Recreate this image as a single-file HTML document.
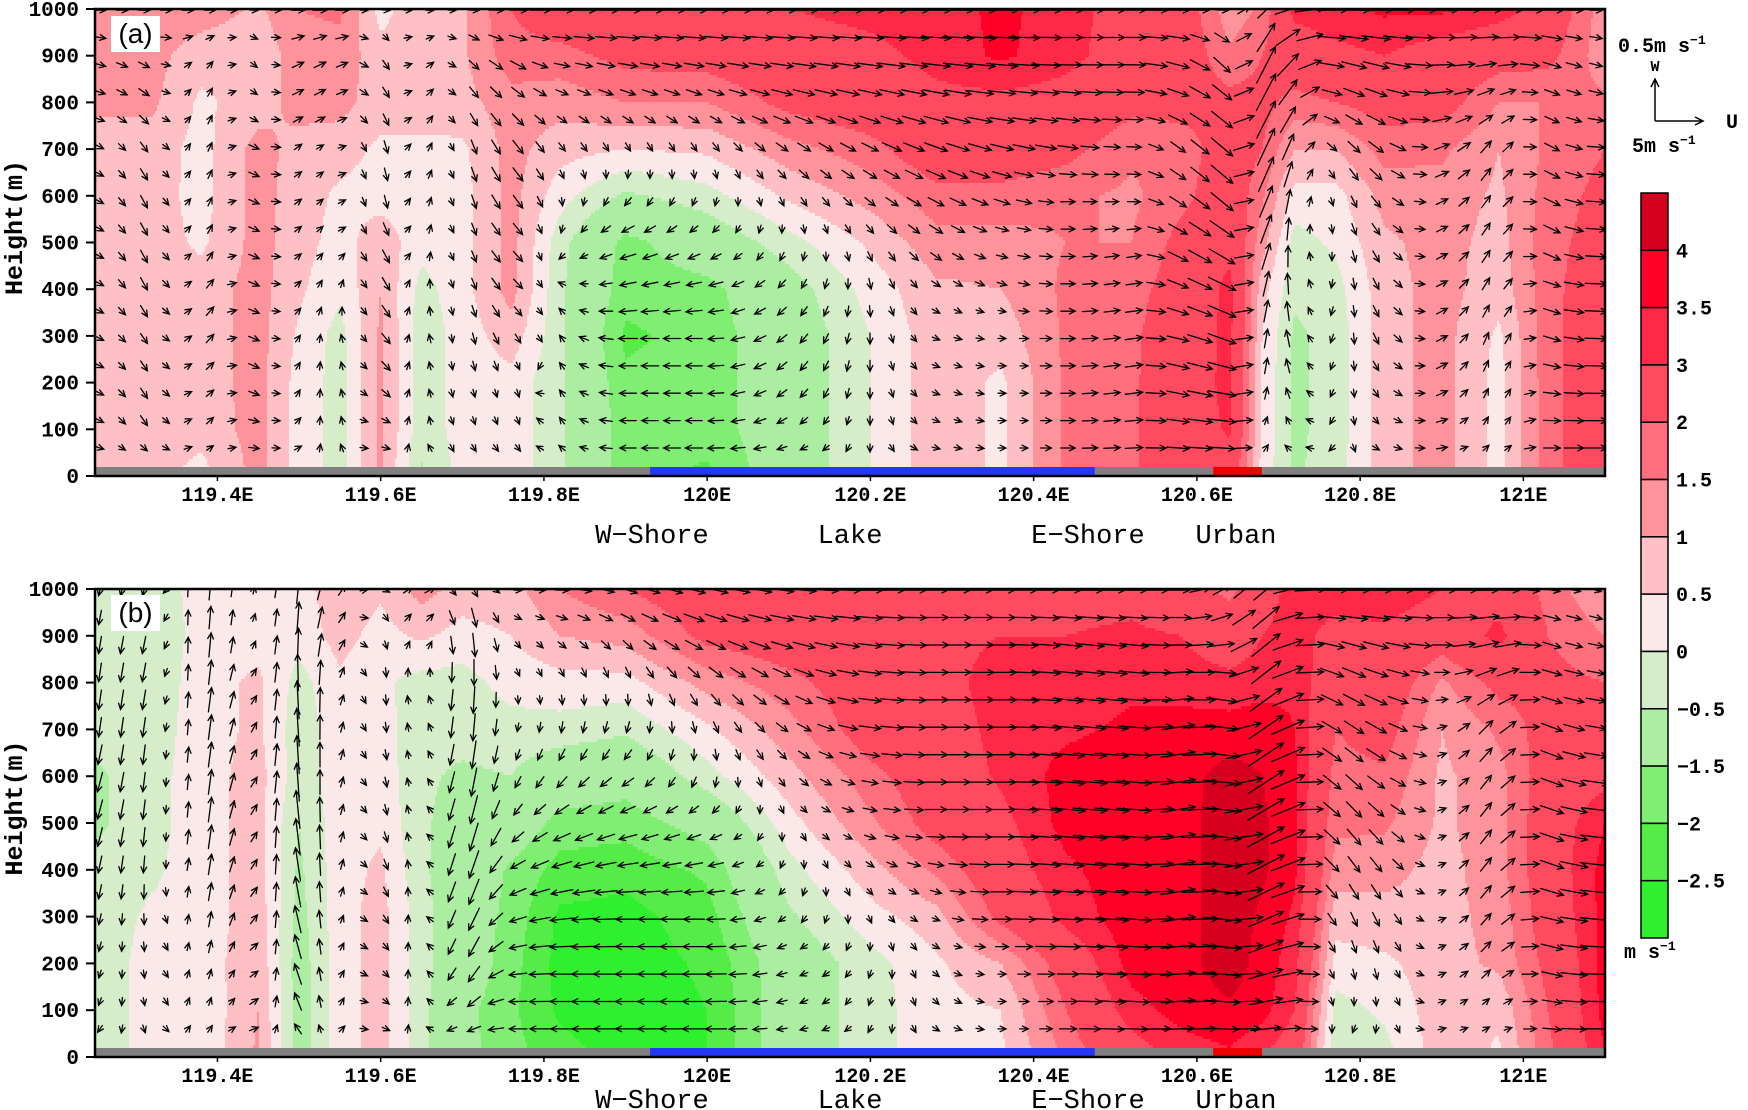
<!DOCTYPE html>
<html><head><meta charset="utf-8"><title>Cross-section wind</title>
<style>
html,body{margin:0;padding:0;background:#fff;}
svg{display:block;}
text{font-family:"Liberation Mono","DejaVu Sans Mono",monospace;fill:#000;}
.tk{font-size:20px;font-weight:bold;}
.yt{font-size:21px;font-weight:bold;}
.cat{font-size:27px;}
</style></head>
<body>
<svg id="fig" width="1748" height="1110" viewBox="0 0 1748 1110" xmlns="http://www.w3.org/2000/svg">
<defs>
<clipPath id="clipA"><rect x="95" y="9" width="1510" height="467"/></clipPath>
<clipPath id="clipB"><rect x="95" y="589" width="1510" height="468"/></clipPath>
</defs>
<g id="panelA"></g>
<g id="panelB"></g>
<g id="deco"></g>
</svg>
<script>
// ---- data ----
const lons = [119.25,119.32,119.38,119.45,119.5,119.55,119.6,119.65,119.7,119.76,119.82,119.9,120.0,120.1,120.2,120.28,120.36,120.44,120.52,120.58,120.64,120.68,120.72,120.77,120.83,120.9,120.97,121.03,121.1];
const heights = [0,100,200,300,400,500,600,700,800,900,1000];
const xTicks = [119.4,119.6,119.8,120.0,120.2,120.4,120.6,120.8,121.0];
const xTickLabels = ["119.4E","119.6E","119.8E","120E","120.2E","120.4E","120.6E","120.8E","121E"];
const yTicks = [0,100,200,300,400,500,600,700,800,900,1000];
const levels = [-2.5,-2,-1.5,-0.5,0,0.5,1,1.5,2,3,3.5,4];
const levelLabels = ["4","3.5","3","2","1.5","1","0.5","0","\u22120.5","\u22121.5","\u22122","\u22122.5"];
const colors = ["#2ef02e","#55ec48","#80ee72","#abeea2","#d5edc9","#fbe9ea","#ffc0c5","#ff939c","#ff6f7d","#ff4a60","#ff2847","#ff0026","#d6001e"];
const surfaceLabels = ["W\u2212Shore","Lake","E\u2212Shore","Urban"];

const uA = [
[0.6,0.75,0.75,0.75,0.75,0.75,0.75,0.75,1.1,1.3,1.3],
[0.7,0.75,0.75,0.75,0.75,0.75,0.75,0.8,1.1,1.2,1.3],
[0.3,0.7,0.75,0.75,0.75,0.4,0.3,0.3,0.4,0.7,1.3],
[1.2,1.2,1.2,1.2,1.2,1.2,1.2,1.2,0.75,0.6,0.9],
[0.3,0.3,0.3,0.4,0.6,0.7,0.75,0.8,1.2,1.3,1.5],
[-0.2,-0.2,-0.2,-0.2,0.1,0.3,0.4,0.7,1.2,1.3,1.6],
[1.1,1.1,1.1,1.1,1.0,0.8,0.3,0.4,0.7,0.7,0.3],
[-0.6,-0.3,-0.3,-0.3,-0.2,0.2,0.3,0.4,0.7,0.8,0.9],
[0.2,0.2,0.2,0.2,0.3,0.3,0.3,0.4,0.8,0.9,0.9],
[0.3,0.3,0.3,0.8,1.2,1.2,1.2,1.2,1.3,1.8,2.0],
[-0.4,-0.4,-0.4,-0.4,-0.4,-0.3,0.2,0.7,1.2,1.8,2.5],
[-1.8,-1.8,-1.9,-2.1,-1.8,-1.7,-0.6,0.5,1.5,2.2,2.8],
[-2.1,-1.8,-1.8,-1.8,-1.7,-1.0,-0.2,0.6,1.5,2.3,2.8],
[-1.0,-1.0,-1.0,-1.0,-0.8,-0.2,0.6,1.3,2.2,2.6,3.0],
[0.0,0.0,0.0,0.0,0.2,0.6,1.2,1.8,2.5,2.8,3.2],
[0.8,0.8,0.8,0.8,0.9,1.3,1.8,2.5,2.8,3.2,3.3],
[0.4,0.4,0.4,0.7,1.0,1.3,1.8,2.5,2.8,3.6,3.6],
[1.6,1.6,1.6,1.6,1.6,1.5,1.6,2.2,2.7,3.2,3.3],
[1.9,1.9,1.9,1.9,1.8,1.5,1.4,1.6,2.2,2.6,2.6],
[2.5,2.5,2.5,2.4,2.3,2.2,1.8,1.6,2.3,2.5,2.5],
[2.6,3.1,3.2,3.2,3.2,2.8,2.5,2.5,2.2,1.6,1.2],
[0.3,0.4,0.4,0.5,0.7,1.2,1.6,2.0,2.2,2.0,1.6],
[-0.6,-0.6,-0.6,-0.6,-0.4,-0.2,0.3,1.0,1.8,2.5,3.2],
[-0.2,-0.3,-0.3,-0.3,-0.2,0.1,0.3,1.0,2.0,2.8,3.4],
[0.8,0.8,0.8,0.8,0.8,0.9,1.2,1.7,2.3,3.0,3.6],
[1.2,1.2,1.2,1.2,1.2,1.2,1.3,1.6,2.3,2.6,3.6],
[0.3,0.3,0.3,0.4,0.7,0.8,0.9,1.0,1.5,2.3,3.3],
[1.8,1.8,1.8,1.8,1.8,1.8,1.7,1.6,1.5,2.2,2.6],
[2.6,2.6,2.6,2.6,2.5,2.3,2.2,2.0,1.6,1.2,1.2]
];
const wA = [
[0,-0.05,-0.05,-0.05,-0.05,-0.05,-0.05,-0.05,-0.05,-0.05,0],
[0,-0.2,-0.2,-0.2,-0.25,-0.25,-0.25,-0.2,-0.15,-0.1,0],
[0,0.15,0.15,0.2,0.2,0.2,0.2,0.2,0.2,0.15,0],
[0,-0.05,-0.1,-0.1,-0.1,-0.1,-0.1,-0.1,-0.1,-0.1,0],
[0,0.05,0.1,0.1,0.1,0.1,0.1,0.1,0.1,0.1,0],
[0,0.1,0.1,0.1,0.1,0.05,0.05,0.05,0.1,0.1,0],
[0,-0.1,-0.2,-0.25,-0.3,-0.3,-0.3,-0.3,-0.25,-0.2,0],
[0,0.2,0.2,0.25,0.25,0.25,0.25,0.25,0.2,0.15,0],
[0,-0.1,-0.15,-0.2,-0.2,-0.2,-0.25,-0.25,-0.2,-0.15,0],
[0,-0.1,-0.15,-0.2,-0.2,-0.2,-0.25,-0.25,-0.2,-0.15,0],
[0,0.1,0.1,0.1,0.05,-0.1,-0.15,-0.15,-0.1,-0.05,0],
[0,0,0,0,-0.05,-0.1,-0.15,-0.15,-0.1,-0.05,0],
[0,0,0,0,-0.05,-0.1,-0.15,-0.15,-0.1,-0.05,0],
[0,-0.1,-0.15,-0.15,-0.15,-0.15,-0.15,-0.15,-0.1,-0.05,0],
[0,-0.15,-0.2,-0.2,-0.2,-0.15,-0.15,-0.15,-0.1,-0.05,0],
[0,-0.05,-0.05,-0.05,-0.1,-0.15,-0.15,-0.15,-0.1,-0.05,0],
[0,0,0,0,-0.05,-0.05,-0.1,-0.1,-0.05,-0.05,0],
[0,0,0,0,0,0,0,-0.05,-0.05,0,0],
[0,0.03,0.05,0.05,0.05,0.05,0,0,0,0,0],
[0,-0.05,-0.1,-0.1,-0.15,-0.2,-0.2,-0.2,-0.15,-0.1,0],
[0,-0.05,-0.1,-0.2,-0.25,-0.3,-0.35,-0.35,-0.3,-0.3,0],
[0,0.1,0.25,0.35,0.45,0.5,0.6,0.7,0.7,0.7,0.3],
[0,0.1,0.2,0.3,0.35,0.35,0.4,0.4,0.4,0.3,0.1],
[0,-0.1,-0.15,-0.2,-0.2,-0.2,-0.2,-0.2,-0.15,-0.1,0],
[0,-0.1,-0.15,-0.2,-0.2,-0.2,-0.2,-0.2,-0.15,-0.1,0],
[0,0.05,0.1,0.1,0.1,0.1,0.1,0.1,0.05,0,0],
[0,0.15,0.2,0.25,0.25,0.25,0.25,0.25,0.15,0.05,0],
[0,0,-0.05,-0.1,-0.1,-0.15,-0.15,-0.15,-0.1,-0.1,0],
[0,0,0,0,0,0,0,0,-0.05,-0.05,0]
];
const uB = [
[-0.3,-0.3,-0.3,-0.3,-0.4,-0.6,-0.6,-0.3,-0.3,-0.3,-0.3],
[0.2,0.2,0.2,0.1,-0.1,-0.2,-0.2,-0.3,-0.4,-0.4,-0.3],
[0.1,0.1,0.2,0.2,0.3,0.3,0.3,0.3,0.3,0.2,0.2],
[1.1,1.0,0.9,0.8,0.7,0.7,0.7,0.6,0.6,0.3,0.2],
[-0.8,-0.8,-0.8,-0.7,-0.6,-0.5,-0.3,-0.3,-0.2,0.2,0.3],
[0.3,0.3,0.3,0.3,0.3,0.3,0.3,0.3,0.4,0.7,0.8],
[0.7,0.7,0.7,0.7,0.6,0.4,0.3,0.2,0.1,0.3,0.6],
[-0.3,-0.3,-0.3,-0.3,-0.4,-0.4,-0.4,-0.3,-0.2,0.6,1.2],
[-1.3,-1.3,-1.0,-1.0,-0.9,-0.8,-0.6,-0.3,-0.2,0.3,0.8],
[-1.8,-1.9,-1.8,-1.7,-1.6,-1.0,-0.5,-0.2,0.2,0.5,0.8],
[-2.3,-2.6,-2.7,-2.6,-2.2,-1.7,-1.0,-0.2,0.3,1.0,1.5],
[-2.7,-2.8,-2.8,-2.7,-2.3,-1.8,-1.2,-0.4,0.3,1.2,2.0],
[-2.5,-2.5,-2.4,-2.2,-1.9,-1.2,-0.2,0.4,1.2,2.2,2.6],
[-1.0,-1.0,-1.0,-0.6,-0.2,0.3,0.8,1.3,1.8,2.5,2.6],
[-0.2,-0.2,-0.2,0.3,0.8,1.4,1.8,2.4,2.5,2.6,2.8],
[0.3,0.3,0.4,0.8,1.6,2.3,2.5,2.6,2.7,2.8,2.6],
[0.4,0.5,1.0,2.2,2.6,2.8,3.1,3.2,3.3,3.0,2.8],
[1.6,2.0,2.4,3.2,3.4,3.7,3.7,3.4,3.2,3.0,2.8],
[2.6,3.3,3.7,3.8,3.8,3.8,3.8,3.6,3.4,3.1,2.8],
[3.2,3.7,3.8,3.8,3.8,3.8,3.8,3.7,3.3,3.0,2.5],
[3.4,3.9,4.3,4.3,4.3,4.3,4.2,3.7,3.2,2.5,1.8],
[3.0,3.7,3.8,3.9,4.1,4.1,4.0,3.8,3.3,3.0,2.6],
[2.5,3.0,3.2,3.4,3.6,3.6,3.6,3.5,3.4,3.3,3.3],
[-0.4,-0.2,0.3,0.7,1.3,1.6,1.8,2.0,2.4,2.7,3.4],
[-0.2,0.1,0.4,0.8,1.2,1.6,1.9,2.3,2.6,2.8,3.5],
[0.8,0.8,0.8,0.8,0.8,0.9,0.9,1.0,1.4,2.4,3.0],
[0.4,0.6,1.1,1.2,1.3,1.3,1.3,1.6,2.2,3.2,2.6],
[1.8,2.0,2.2,2.4,2.5,2.5,2.4,2.3,2.2,2.0,1.8],
[3.5,3.7,3.7,3.7,3.7,3.5,2.8,2.3,2.0,1.5,1.0]
];
const wB = [
[0,-0.1,-0.15,-0.2,-0.3,-0.35,-0.35,-0.35,-0.35,-0.3,-0.2],
[0,-0.1,-0.15,-0.2,-0.3,-0.35,-0.35,-0.35,-0.35,-0.3,-0.2],
[0,0.1,0.2,0.3,0.4,0.5,0.5,0.5,0.5,0.5,0.4],
[0,0.1,0.1,0.15,0.15,0.15,0.15,0.15,0.1,0.1,0.1],
[0,0.3,0.4,0.5,0.6,0.7,0.7,0.7,0.7,0.6,0.5],
[0,0.1,0.1,0.15,0.2,0.2,0.2,0.2,0.2,0.2,0.2],
[0,-0.1,-0.15,-0.2,-0.25,-0.25,-0.25,-0.25,-0.25,-0.2,-0.1],
[0,0.15,0.2,0.2,0.25,0.25,0.3,0.3,0.3,0.3,0.2],
[0,-0.2,-0.4,-0.5,-0.6,-0.6,-0.6,-0.6,-0.6,-0.5,-0.3],
[0,0,-0.05,-0.1,-0.15,-0.2,-0.2,-0.15,-0.1,-0.1,0],
[0,0,0,-0.05,-0.1,-0.15,-0.2,-0.2,-0.15,-0.1,0],
[0,0,0,0,-0.05,-0.1,-0.15,-0.2,-0.2,-0.15,-0.1],
[0,0,0,0,-0.05,-0.1,-0.2,-0.2,-0.2,-0.15,-0.1],
[0,-0.05,-0.05,-0.1,-0.1,-0.1,-0.15,-0.15,-0.15,-0.1,-0.05],
[0,-0.1,-0.1,-0.1,-0.1,-0.05,-0.05,-0.05,-0.05,-0.05,0],
[0,-0.05,-0.05,-0.05,-0.05,0,0,0,0,0,0],
[0,0,0,0,0,0,0,0,0,0,0],
[0,0,0,-0.03,-0.05,-0.05,-0.05,-0.05,-0.05,-0.05,0],
[0,-0.03,-0.05,-0.05,-0.05,-0.05,-0.05,-0.05,-0.05,-0.05,0],
[0,0.05,0.05,0.1,0.1,0.1,0.1,0.1,0.05,0,0],
[0,-0.05,-0.1,-0.1,-0.1,-0.1,-0.1,-0.1,-0.1,0.1,0.2],
[0,0.1,0.2,0.3,0.35,0.4,0.45,0.45,0.45,0.45,0.4],
[0,0.05,0.1,0.15,0.2,0.2,0.2,0.2,0.15,0.1,0.05],
[0,-0.1,-0.2,-0.25,-0.3,-0.3,-0.3,-0.25,-0.2,-0.1,0],
[0,-0.15,-0.2,-0.25,-0.25,-0.25,-0.2,-0.2,-0.15,-0.1,0],
[0,0.05,0.05,0.05,0.05,0.05,0.05,0.05,0,0,0],
[0,0.1,0.2,0.25,0.3,0.3,0.3,0.3,0.2,0.1,0],
[0,-0.05,-0.1,-0.1,-0.15,-0.15,-0.15,-0.15,-0.1,-0.1,-0.05],
[0,0,0,-0.05,-0.05,-0.05,-0.05,-0.05,-0.05,-0.05,-0.05]
];
const surfaceTypes = ["land","lake","land","urban","land"];
const surfaceBounds = [119.25,119.93,120.475,120.62,120.68,121.1];

// ---- layout ----
const NS = "http://www.w3.org/2000/svg";
const X0 = 95, X1 = 1605, LON0 = 119.25, LON1 = 121.1;
const xScale = lon => X0 + (lon - LON0) / (LON1 - LON0) * (X1 - X0);
const lonFromX = x => LON0 + (x - X0) / (X1 - X0) * (LON1 - LON0);
function mk(tag, attrs, parent){
  const e = document.createElementNS(NS, tag);
  for (const k in attrs) e.setAttribute(k, attrs[k]);
  parent.appendChild(e); return e;
}
function interp(field, lon, h){
  let i = 0;
  while (i < lons.length - 2 && lon > lons[i+1]) i++;
  let tx = (lon - lons[i]) / (lons[i+1] - lons[i]); tx = Math.max(0, Math.min(1, tx));
  let hy = h / 100; let j = Math.min(heights.length - 2, Math.max(0, Math.floor(hy)));
  let ty = Math.max(0, Math.min(1, hy - j));
  const a = field[i][j], b = field[i+1][j], c = field[i][j+1], d = field[i+1][j+1];
  return (a*(1-tx)+b*tx)*(1-ty) + (c*(1-tx)+d*tx)*ty;
}
function colorIdx(v){ let k = 0; while (k < levels.length && v >= levels[k]) k++; return k; }

function drawPanel(g, top, bottom, uF, wF, clipId, tag){
  const yScale = h => bottom - h / 1000 * (bottom - top);
  const field = mk('g', {'clip-path':'url(#'+clipId+')'}, g);
  
  
  const stepY = 3, stepX = 2;
  for (let y = top; y < bottom; y += stepY) {
    const h = (bottom - (y + stepY/2)) / (bottom - top) * 1000;
    let runStart = X0, runC = -1;
    for (let x = X0; x <= X1; x += stepX) {
      const c = x < X1 ? colorIdx(interp(uF, lonFromX(x + 1), h)) : -2;
      if (c !== runC) {
        if (runC >= 0) {
          const r = mk('rect', {x: runStart, y: y, width: x - runStart + 0.6, height: stepY + 0.6, fill: colors[runC]}, field);
          
          
        }
        runStart = x; runC = c;
      }
    }
  }
  const bar = mk('g', {}, g);
  
  
  const barCol = {land:'#808080', lake:'#2238f5', urban:'#ee0000'};
  for (let s = 0; s < surfaceTypes.length; s++) {
    const r = mk('rect', {x: xScale(surfaceBounds[s]), y: bottom - 9, width: xScale(surfaceBounds[s+1]) - xScale(surfaceBounds[s]), height: 9, fill: barCol[surfaceTypes[s]]}, bar);
    
    
  }
  const vec = mk('g', {'clip-path':'url(#'+clipId+')', stroke:'#000', 'stroke-width':1.3, fill:'none', 'stroke-linecap':'round'}, g);
  
  
  const US = 9, WS = 55;
  for (let k = 0; k < 17; k++) {
    const h = 60 + k * 58.6;
    const yc = yScale(h);
    for (let m = 0; m < 69; m++) {
      const xc = 100 + m * 22;
      const lon = lonFromX(xc);
      const u = interp(uF, lon, h), w = interp(wF, lon, h);
      let dx = u * US, dy = -w * WS;
      let L = Math.hypot(dx, dy);
      if (L < 0.01) { dx = 8; dy = 0; L = 8; }
      if (L < 8) { dx *= 8 / L; dy *= 8 / L; L = 8; }
      const x1 = xc - dx/2, y1 = yc - dy/2, x2 = xc + dx/2, y2 = yc + dy/2;
      const ang = Math.atan2(dy, dx), hl = 6.5, ha = 0.45;
      const p = 'M'+x1.toFixed(1)+' '+y1.toFixed(1)+'L'+x2.toFixed(1)+' '+y2.toFixed(1)+
        'M'+(x2 - hl*Math.cos(ang-ha)).toFixed(1)+' '+(y2 - hl*Math.sin(ang-ha)).toFixed(1)+'L'+x2.toFixed(1)+' '+y2.toFixed(1)+
        'L'+(x2 - hl*Math.cos(ang+ha)).toFixed(1)+' '+(y2 - hl*Math.sin(ang+ha)).toFixed(1);
      const a = mk('path', {d: p}, vec);
      
      
    }
  }
  const fr = mk('rect', {x: X0, y: top, width: X1 - X0, height: bottom - top, fill:'none', stroke:'#000', 'stroke-width':2.5}, g);
  
  
  const ya = mk('g', {}, g);
  
  
  yTicks.forEach(v => {
    const y = yScale(v);
    mk('line', {x1: X0 - 9, x2: X0, y1: y, y2: y, stroke:'#000', 'stroke-width':2}, ya);
    const t = mk('text', {x: 79, y: y + 7, 'text-anchor':'end', class:'yt'}, ya);
    t.textContent = v;
    
    
  });
  const yl = mk('text', {x: 0, y: 0, 'text-anchor':'middle', class:'yt', style:'font-size:25px', transform:'translate(22,' + ((top + bottom)/2 - 15) + ') rotate(-90)'}, ya);
  yl.textContent = 'Height(m)';
  
  
  const xa = mk('g', {}, g);
  
  
  xTicks.forEach((v, i) => {
    const x = xScale(v);
    mk('line', {x1: x, x2: x, y1: bottom, y2: bottom + 5, stroke:'#000', 'stroke-width':1.5}, xa);
    const t = mk('text', {x: x, y: bottom + 25, 'text-anchor':'middle', class:'tk'}, xa);
    t.textContent = xTickLabels[i];
    
    
  });
}

drawPanel(document.getElementById('panelA'), 9, 476, uA, wA, 'clipA', 'a');
drawPanel(document.getElementById('panelB'), 589, 1057, uB, wB, 'clipB', 'b');

const deco = document.getElementById('deco');
[['(a)', 16], ['(b)', 595]].forEach(([lab, y]) => {
  const r = mk('rect', {x: 111, y: y, width: 49, height: 36, fill:'#fff'}, deco);
  
  
  const t = mk('text', {x: 135.5, y: y + 27, 'text-anchor':'middle', style:'font-size:28px;font-family:"Liberation Sans",sans-serif'}, deco);
  t.textContent = lab;
  
  
});
[[543, 'a'], [1108, 'b']].forEach(([y, tag]) => {
  surfaceLabels.forEach((s, i) => {
    const t = mk('text', {x: [652, 850, 1088, 1236][i], y: y, 'text-anchor':'middle', class:'cat'}, deco);
    t.textContent = s;
    
    
  });
});
const leg = mk('g', {}, deco);


function lt(x, y, s, size, anchor){ const t = mk('text', {x:x, y:y, 'text-anchor':anchor||'start', style:'font-size:'+size+'px;font-weight:bold'}, leg); t.innerHTML = s; return t; }
lt(1618, 52, '0.5m s<tspan dy="-8" style="font-size:13px">\u22121</tspan>', 20);
lt(1655, 71, 'W', 15, 'middle');
lt(1726, 128, 'U', 20);
lt(1632, 152, '5m s<tspan dy="-8" style="font-size:13px">\u22121</tspan>', 20);
mk('path', {d:'M1655 121 L1655 79 M1651 87 L1655 79 L1659 87 M1655 121 L1703 121 M1695 117 L1703 121 L1695 125', stroke:'#000', 'stroke-width':1.5, fill:'none'}, leg);
const cb = mk('g', {}, deco);


const cbTop = 193, cbBot = 938, nb = colors.length, bh = (cbBot - cbTop) / nb;
for (let i = 0; i < nb; i++) {
  const r = mk('rect', {x: 1641, y: cbTop + i*bh, width: 27, height: bh, fill: colors[nb - 1 - i], stroke:'#000', 'stroke-width':1.5}, cb);
  
  
}
levelLabels.forEach((s, i) => {
  const t = mk('text', {x: s[0] === '\u2212' ? 1677 : 1676, y: cbTop + (i+1)*bh + 7, style:'font-size:20px;font-weight:bold'}, cb);
  t.textContent = s;
  
  
});
const un = mk('text', {x: 1624, y: 958, style:'font-size:20px;font-weight:bold'}, cb);
un.innerHTML = 'm s<tspan dy="-8" style="font-size:13px">\u22121</tspan>';


</script>
</body></html>
